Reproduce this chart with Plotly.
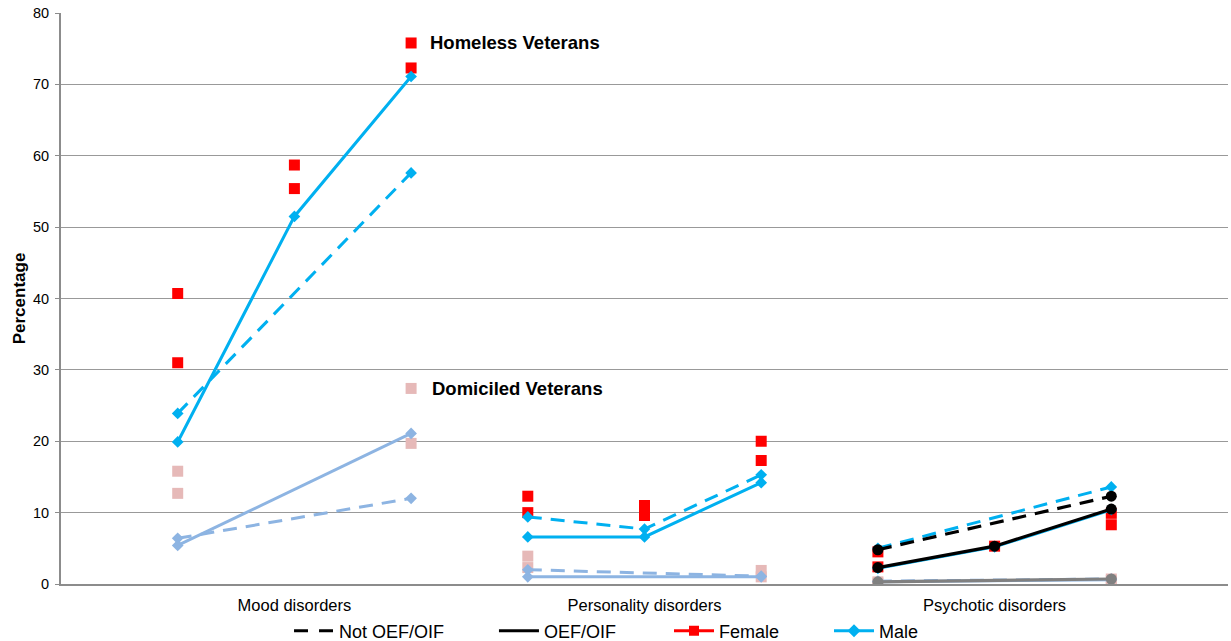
import plotly.graph_objects as go

# ---------------- data ----------------
categories = ["Mood disorders", "Personality disorders", "Psychotic disorders"]
sub_positions = [1, 2, 3]          # three sub-groups inside each category
y_ticks = [0, 10, 20, 30, 40, 50, 60, 70, 80]

# Homeless veterans, male (cyan)
male_homeless_oef = [[19.9, 51.5, 71.1], [6.6, 6.6, 14.2], [2.2, 5.2, 10.4]]
male_homeless_not = [[23.9, None, 57.6], [9.4, 7.7, 15.3], [5.0, None, 13.6]]
# Homeless veterans, female (red squares)
female_homeless_a = [[40.7, 58.7, 75.8], [12.3, 11.0, 20.0], [4.5, 5.3, 9.9]]
female_homeless_b = [[31.0, 55.4, 72.3], [10.0, 9.6, 17.3], [2.4, None, 8.3]]
# Domiciled veterans, male (light blue)
male_domiciled_oef = [[5.4, None, 21.1], [1.0, None, 1.0], [0.3, None, 0.6]]
male_domiciled_not = [[6.4, None, 12.0], [2.0, None, 1.1], [0.4, None, 0.7]]
# Domiciled veterans, female (pink squares)
female_domiciled_a = [[15.8, None, 27.4], [3.9, None, 1.9], [0.3, None, 0.7]]
female_domiciled_b = [[12.7, None, 19.7], [2.3, None, 1.0], [0.1, None, 0.5]]
# Psychotic disorders overlay (black / gray with circles)
psych_homeless_not = [4.8, None, 12.3]
psych_homeless_oef = [2.3, 5.3, 10.5]
psych_domiciled = [0.3, None, 0.7]

legend_names = ["Not OEF/OIF", "OEF/OIF", "Female", "Male"]

CYAN = "#00B0F0"
LBLUE = "#8DB4E2"
RED = "#FF0000"
PINK = "#E6B9B8"
DASH = "14px,9px"
SANS = "Liberation Sans, Arial"

fig = go.Figure()


def xs_for(ci):
    return [ci * 3 + p for p in sub_positions]


def add_line(vals, ci, color, dash, symbol, msize, width=3):
    xs = xs_for(ci)
    px = [x for x, v in zip(xs, vals) if v is not None]
    py = [v for v in vals if v is not None]
    fig.add_trace(go.Scatter(
        x=px, y=py, mode="lines+markers", showlegend=False, hoverinfo="skip",
        line=dict(color=color, width=width, dash=dash),
        marker=dict(symbol=symbol, size=msize, color=color)))


def add_markers(vals, ci, color, symbol="square", size=11):
    xs = xs_for(ci)
    px = [x for x, v in zip(xs, vals) if v is not None]
    py = [v for v in vals if v is not None]
    fig.add_trace(go.Scatter(
        x=px, y=py, mode="markers", showlegend=False, hoverinfo="skip",
        marker=dict(symbol=symbol, size=size, color=color)))


for ci in range(3):
    add_markers(female_domiciled_a[ci], ci, PINK)
    add_markers(female_domiciled_b[ci], ci, PINK)
    add_line(male_domiciled_not[ci], ci, LBLUE, DASH, "diamond", 9)
    add_line(male_domiciled_oef[ci], ci, LBLUE, "solid", "diamond", 9)
    add_markers(female_homeless_a[ci], ci, RED)
    add_markers(female_homeless_b[ci], ci, RED)
    add_line(male_homeless_not[ci], ci, CYAN, DASH, "diamond", 9)
    add_line(male_homeless_oef[ci], ci, CYAN, "solid", "diamond", 9)

add_line(psych_domiciled, 2, "#808080", "solid", "circle", 11, width=3.2)
add_line(psych_homeless_not, 2, "#000000", DASH, "circle", 11, width=3.2)
add_line(psych_homeless_oef, 2, "#000000", "solid", "circle", 11, width=3.2)

# legend entries, each in its own legend box so they can be placed individually
legend_styles = [
    ("#000000", "14px,11px", None),
    ("#000000", "solid", None),
    (RED, "solid", "square"),
    (CYAN, "solid", "diamond"),
]
legend_ids = ["legend", "legend2", "legend3", "legend4"]
legend_x = [0.1954, 0.3710, 0.5210, 0.6581]
for name, (col, dash, sym), lid in zip(legend_names, legend_styles, legend_ids):
    fig.add_trace(go.Scatter(
        x=[None], y=[None], name=name, legend=lid,
        mode="lines+markers" if sym else "lines",
        line=dict(color=col, width=3, dash=dash),
        marker=dict(symbol=sym or "circle", size=10, color=col)))

fig.add_annotation(x=3.0, y=75.8, xshift=17, text="<b>Homeless Veterans</b>", showarrow=False,
                   xanchor="left", yanchor="middle",
                   font=dict(family=SANS, size=18.5, color="#000"))
fig.add_annotation(x=3.0, y=27.4, xshift=19, text="<b>Domiciled Veterans</b>", showarrow=False,
                   xanchor="left", yanchor="middle",
                   font=dict(family=SANS, size=18.5, color="#000"))

legend_common = dict(orientation="h", xanchor="left", y=-0.050, yanchor="top",
                     font=dict(size=18, family=SANS), itemwidth=40,
                     bgcolor="rgba(0,0,0,0)")

fig.update_layout(
    width=1231, height=641,
    margin=dict(l=61, r=3, t=13, b=57, autoexpand=False),
    paper_bgcolor="white", plot_bgcolor="white",
    font=dict(family=SANS, color="#000"),
    showlegend=True,
    legend=dict(x=legend_x[0], **legend_common),
    legend2=dict(x=legend_x[1], **legend_common),
    legend3=dict(x=legend_x[2], **legend_common),
    legend4=dict(x=legend_x[3], **legend_common),
    xaxis=dict(range=[0, 10], tickmode="array", tickvals=[2, 5, 8], ticktext=categories,
               showgrid=False, zeroline=False, showline=True, linecolor="#8c8c8c",
               linewidth=2, ticks="", tickfont=dict(size=16.5, family=SANS),
               ticklabelstandoff=5, automargin=False),
    yaxis=dict(range=[0, 80], tickmode="array", tickvals=y_ticks,
               showgrid=True, gridcolor="#999999", gridwidth=1, zeroline=False,
               showline=True, linecolor="#8c8c8c", linewidth=2,
               ticks="outside", ticklen=4, tickcolor="#8c8c8c",
               tickfont=dict(size=14.5), automargin=False, ticklabelstandoff=3,
               title=dict(text="<b>Percentage</b>", font=dict(size=17), standoff=3)),
)

fig.write_html("out.html", config={"displayModeBar": False},
               post_script="document.body.style.margin='0';document.body.style.overflow='hidden';")
